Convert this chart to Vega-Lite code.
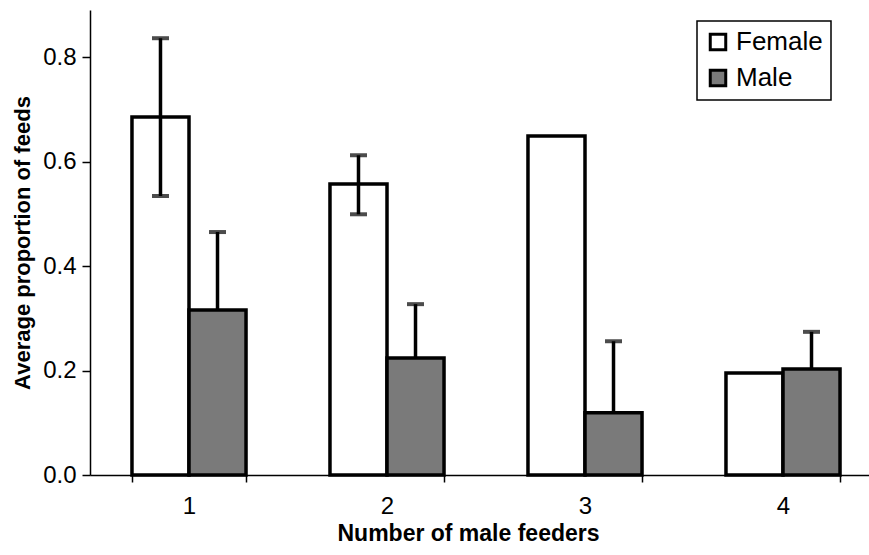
{
  "$schema": "https://vega.github.io/schema/vega-lite/v6.json",
  "width": 779,
  "height": 465,
  "autosize": {"type": "none"},
  "padding": {"left": 90, "top": 10, "right": 0, "bottom": 80},
  "background": "white",
  "config": {
    "view": {"stroke": null},
    "font": "Liberation Sans"
  },
  "data": {
    "values": [
      {"feeders": "1", "sex": "Female", "value": 0.685, "lo": 0.534, "hi": 0.836},
      {"feeders": "1", "sex": "Male", "value": 0.316, "lo": 0.316, "hi": 0.465},
      {"feeders": "2", "sex": "Female", "value": 0.557, "lo": 0.499, "hi": 0.612},
      {"feeders": "2", "sex": "Male", "value": 0.224, "lo": 0.224, "hi": 0.327},
      {"feeders": "3", "sex": "Female", "value": 0.649, "lo": null, "hi": null},
      {"feeders": "3", "sex": "Male", "value": 0.119, "lo": 0.119, "hi": 0.256},
      {"feeders": "4", "sex": "Female", "value": 0.195, "lo": null, "hi": null},
      {"feeders": "4", "sex": "Male", "value": 0.203, "lo": 0.203, "hi": 0.274}
    ]
  },
  "encoding": {
    "x": {
      "field": "feeders",
      "type": "nominal",
      "sort": ["1", "2", "3", "4"],
      "scale": {"range": [0, 792], "paddingInner": 0.424, "paddingOuter": 0.212},
      "axis": {
        "title": "Number of male feeders",
        "labelAngle": 0,
        "tickBand": "extent",
        "labelFontSize": 24,
        "labelColor": "black",
        "labelPadding": 12,
        "tickSize": 7,
        "tickColor": "black",
        "tickWidth": 1.5,
        "domainColor": "black",
        "domainWidth": 1.5,
        "titleFontSize": 23,
        "titleFontWeight": "bold",
        "titleColor": "black",
        "titleX": 378,
        "titlePadding": 4
      }
    },
    "xOffset": {
      "field": "sex",
      "type": "nominal",
      "sort": ["Female", "Male"],
      "scale": {"paddingInner": 0, "paddingOuter": 0}
    }
  },
  "layer": [
    {
      "mark": {"type": "bar", "stroke": "black", "strokeWidth": 3.5},
      "encoding": {
        "y": {
          "field": "value",
          "type": "quantitative",
          "scale": {"domain": [0, 0.89], "nice": false, "zero": true},
          "axis": {
            "title": "Average proportion of feeds",
            "values": [0, 0.2, 0.4, 0.6, 0.8],
            "format": ".1f",
            "grid": false,
            "labelFontSize": 24,
            "labelColor": "black",
            "labelPadding": 6,
            "tickSize": 8,
            "tickColor": "black",
            "tickWidth": 1.5,
            "domainColor": "black",
            "domainWidth": 1.5,
            "titleFontSize": 22,
            "titleFontWeight": "bold",
            "titleColor": "black",
            "titlePadding": 8
          }
        },
        "fill": {
          "field": "sex",
          "type": "nominal",
          "scale": {"domain": ["Female", "Male"], "range": ["white", "#7a7a7a"]},
          "legend": {
            "title": null,
            "orient": "none",
            "legendX": 607,
            "legendY": 11,
            "strokeColor": "black",
            "padding": 8,
            "symbolType": "square",
            "symbolSize": 240,
            "symbolStrokeColor": "black",
            "symbolStrokeWidth": 3,
            "labelFontSize": 26,
            "labelColor": "black",
            "labelOffset": 5,
            "rowPadding": 8,
            "fillColor": "white",
            "encode": {"legend": {"update": {"strokeWidth": {"value": 1.5}}}}
          }
        }
      }
    },
    {
      "transform": [{"filter": "datum.hi != null"}],
      "mark": {"type": "rule", "color": "black", "strokeWidth": 3.5},
      "encoding": {
        "y": {"field": "lo", "type": "quantitative"},
        "y2": {"field": "hi"}
      }
    },
    {
      "transform": [{"filter": "datum.hi != null"}],
      "mark": {"type": "tick", "color": "black", "orient": "horizontal", "size": 17, "thickness": 4},
      "encoding": {
        "y": {"field": "hi", "type": "quantitative"}
      }
    },
    {
      "transform": [{"filter": "datum.hi != null && datum.lo < datum.value"}],
      "mark": {"type": "tick", "color": "black", "orient": "horizontal", "size": 17, "thickness": 4},
      "encoding": {
        "y": {"field": "lo", "type": "quantitative"}
      }
    }
  ]
}
